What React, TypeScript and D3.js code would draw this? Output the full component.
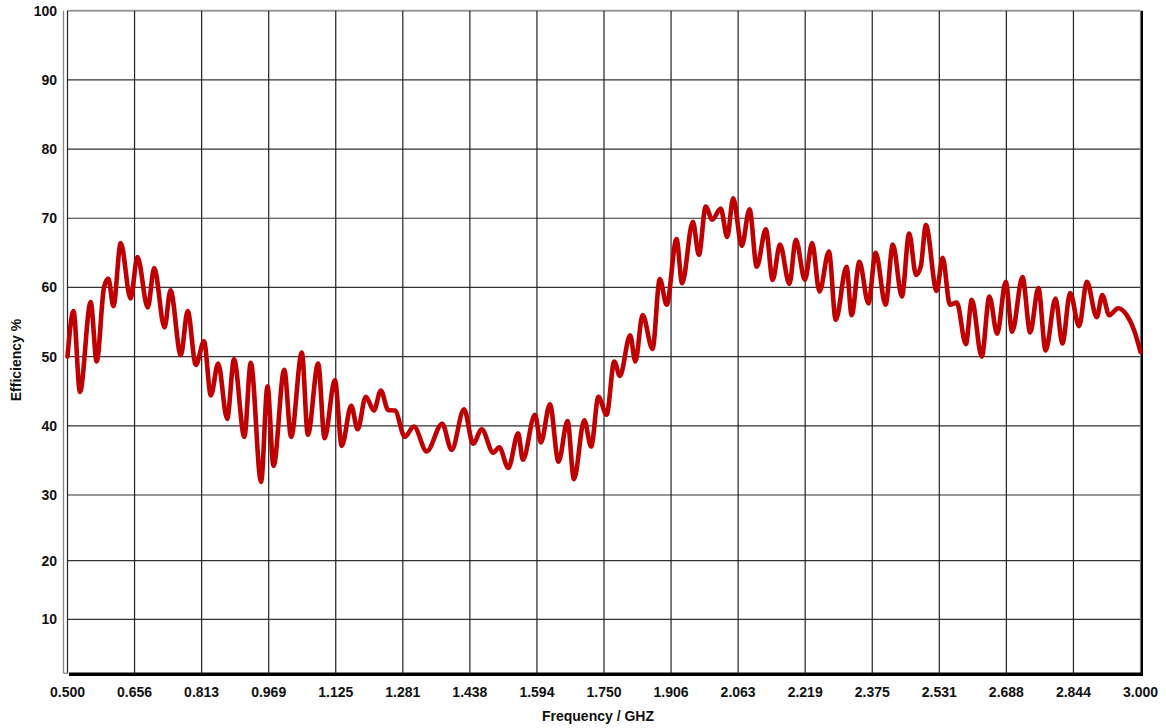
import React from "react";
import * as d3 from "d3";

const freq: number[] = [
  0.5, 0.514, 0.529, 0.554, 0.568, 0.585, 0.595, 0.607, 0.624, 0.647, 0.663, 0.687, 0.702, 0.726, 0.74, 0.764,
  0.78, 0.799, 0.818, 0.834, 0.851, 0.872, 0.888, 0.912, 0.927, 0.951, 0.966, 0.98, 1.005, 1.021, 1.046, 1.06,
  1.084, 1.099, 1.123, 1.139, 1.161, 1.176, 1.195, 1.214, 1.23, 1.247, 1.263, 1.286, 1.307, 1.337, 1.373, 1.395,
  1.424, 1.445, 1.465, 1.492, 1.506, 1.527, 1.55, 1.561, 1.589, 1.603, 1.624, 1.644, 1.665, 1.68, 1.704, 1.72,
  1.737, 1.756, 1.774, 1.787, 1.811, 1.823, 1.84, 1.863, 1.88, 1.896, 1.919, 1.932, 1.957, 1.971, 1.987, 2.002,
  2.022, 2.037, 2.051, 2.071, 2.089, 2.106, 2.127, 2.143, 2.16, 2.182, 2.197, 2.218, 2.235, 2.252, 2.274, 2.29,
  2.315, 2.327, 2.345, 2.366, 2.383, 2.406, 2.423, 2.444, 2.461, 2.477, 2.488, 2.5, 2.525, 2.539, 2.556, 2.572,
  2.593, 2.607, 2.63, 2.648, 2.666, 2.686, 2.701, 2.725, 2.743, 2.762, 2.779, 2.802, 2.818, 2.836, 2.857, 2.875,
  2.898, 2.911, 2.927, 2.948, 2.968, 2.984, 3.0,
];

const efficiency: number[] = [
  50.0, 56.6, 44.9, 57.9, 49.3, 60.0, 61.3, 57.3, 66.4, 58.4, 64.4, 57.1, 62.8, 54.2, 59.6, 50.2,
  56.6, 48.8, 52.2, 44.4, 49.0, 41.0, 49.6, 38.4, 49.1, 31.9, 45.7, 34.2, 48.1, 38.4, 50.6, 38.7,
  49.0, 38.2, 46.6, 37.1, 42.9, 39.5, 44.2, 42.2, 45.1, 42.3, 42.2, 38.4, 39.9, 36.3, 40.3, 36.5,
  42.4, 37.4, 39.5, 36.1, 36.9, 33.9, 38.9, 35.1, 41.6, 37.6, 43.1, 34.8, 40.7, 32.3, 40.8, 37.0,
  44.2, 41.6, 49.3, 47.2, 53.1, 49.3, 56.0, 51.1, 61.2, 57.5, 67.0, 60.6, 69.5, 64.7, 71.7, 69.8,
  71.4, 67.3, 72.9, 66.0, 71.3, 63.0, 68.4, 61.1, 66.2, 60.5, 66.9, 61.1, 66.4, 59.4, 65.2, 55.3,
  63.0, 56.0, 63.7, 57.7, 65.0, 57.5, 66.2, 58.7, 67.8, 61.8, 63.0, 69.0, 59.5, 64.3, 57.5, 57.8,
  51.8, 58.2, 50.0, 58.7, 53.3, 60.8, 53.6, 61.5, 53.5, 59.9, 50.9, 58.4, 51.9, 59.2, 54.4, 60.8,
  55.7, 58.9, 56.0, 57.0, 56.0, 54.0, 50.7,
];

const xTickLabels: string[] = [
  "0.500", "0.656", "0.813", "0.969", "1.125", "1.281", "1.438", "1.594", "1.750",
  "1.906", "2.063", "2.219", "2.375", "2.531", "2.688", "2.844", "3.000",
];
const yTickLabels: string[] = ["10", "20", "30", "40", "50", "60", "70", "80", "90", "100"];

const xTitle = "Frequency / GHZ";
const yTitle = "Efficiency %";

const W = 1166;
const H = 728;
const left = 67.5;
const right = 1140.5;
const top = 10.7;
const bottom = 673.3;

const FONT = "'Liberation Sans', Arial, Helvetica, sans-serif";

export default function App() {
  const x = d3.scaleLinear().domain([0.5, 3.0]).range([left, right]);
  const ph = bottom - top;
  // axis is compressed below 30 in the reference
  const y = d3
    .scaleLinear()
    .domain([0, 10, 20, 30, 100])
    .range([bottom, top + ph * 0.9185, top + ph * 0.8301, top + ph * 0.7309, top]);

  const step = (3.0 - 0.5) / (xTickLabels.length - 1);
  const xTicks = xTickLabels.map((_, i) => 0.5 + i * step);
  const yTicks = yTickLabels.map((t) => +t);

  const pts: [number, number][] = freq.map((f, i) => [f, efficiency[i]]);
  const line = d3
    .line<[number, number]>()
    .x((d) => x(d[0]))
    .y((d) => y(d[1]))
    .curve(d3.curveMonotoneX);

  return (
    <svg
      width={W}
      height={H}
      style={{ position: "absolute", left: 0, top: 0, background: "#fff" }}
      fontFamily={FONT}
    >
      <rect x={0} y={0} width={W} height={H} fill="#fff" />
      {/* horizontal grid */}
      {yTicks.map((t) => (
        <line
          key={"h" + t}
          x1={left}
          x2={right}
          y1={y(t)}
          y2={y(t)}
          stroke={t === 100 ? "#999" : "#333"}
          strokeWidth={t === 100 ? 2 : 1.2}
        />
      ))}
      {/* vertical grid */}
      {xTicks.map((t, i) => (
        <line
          key={"v" + i}
          x1={x(t)}
          x2={x(t)}
          y1={top}
          y2={bottom}
          stroke={i === xTicks.length - 1 ? "#777" : "#222"}
          strokeWidth={1.2}
        />
      ))}
      {/* left axis line */}
      <line x1={63.5} x2={63.5} y1={top} y2={bottom} stroke="#888" strokeWidth={1.3} />
      <line x1={63.5} x2={68} y1={bottom} y2={bottom} stroke="#888" strokeWidth={1.3} />
      {/* right border */}
      <line x1={right + 1.5} x2={right + 1.5} y1={top} y2={bottom + 1} stroke="#000" strokeWidth={2} />
      {/* bottom axis */}
      <line x1={69} x2={right + 2.5} y1={bottom + 1} y2={bottom + 1} stroke="#000" strokeWidth={3.5} />

      {/* data line */}
      <path
        d={line(pts) || ""}
        fill="none"
        stroke="#c00000"
        strokeWidth={4.6}
        strokeLinejoin="round"
        strokeLinecap="round"
      />

      {/* y tick labels */}
      {yTicks.map((t, i) => (
        <text
          key={"yl" + t}
          x={57}
          y={y(t)}
          dy="0.36em"
          textAnchor="end"
          fontSize={14}
          fontWeight="bold"
          fill="#111"
        >
          {yTickLabels[i]}
        </text>
      ))}
      {/* x tick labels */}
      {xTicks.map((t, i) => (
        <text
          key={"xl" + i}
          x={x(t)}
          y={697}
          textAnchor="middle"
          fontSize={14}
          fontWeight="bold"
          fill="#111"
        >
          {xTickLabels[i]}
        </text>
      ))}
      <text x={598} y={721} textAnchor="middle" fontSize={14} fontWeight="bold" fill="#111">
        {xTitle}
      </text>
      <text
        transform={`translate(21,360) rotate(-90)`}
        textAnchor="middle"
        fontSize={14}
        fontWeight="bold"
        fill="#111"
      >
        {yTitle}
      </text>
    </svg>
  );
}
